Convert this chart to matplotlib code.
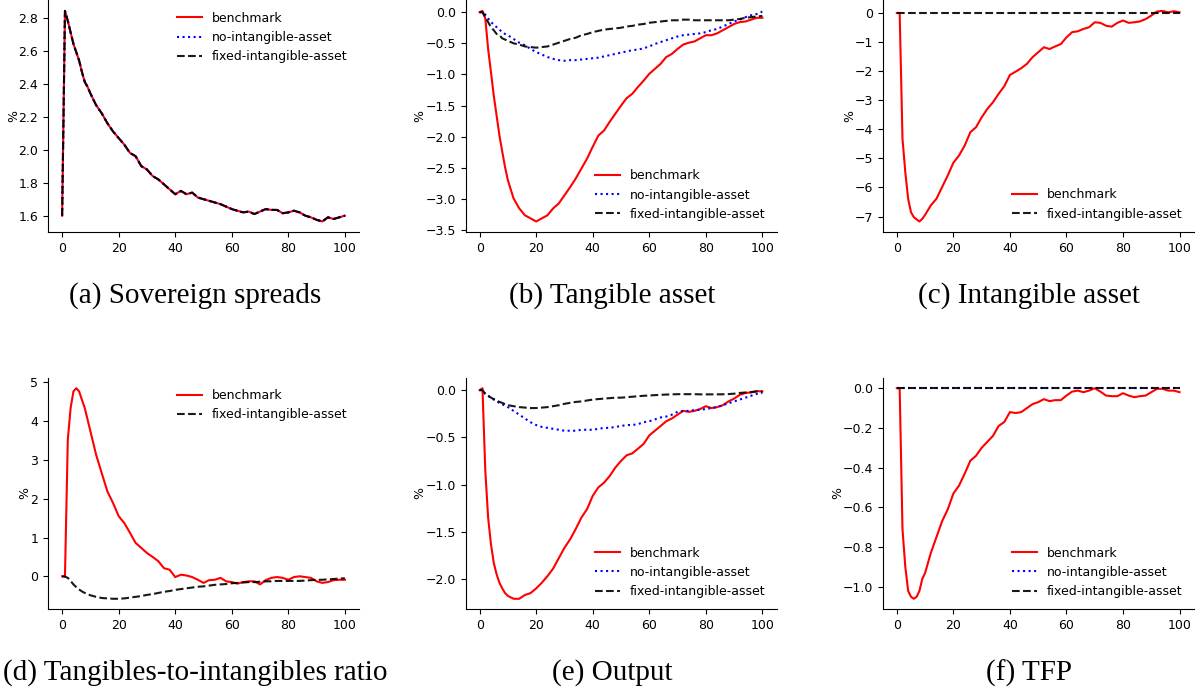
import numpy as np
import matplotlib
matplotlib.use("Agg")
import matplotlib.pyplot as plt

# horizon grid (periods), every period up to 10, then every second period
t = [0, 1, 2, 3, 4, 5, 6, 7, 8, 9, 10] + list(range(12, 101, 2))

# (a) sovereign spreads - all three models coincide
spread = [1.60, 2.84, 2.78, 2.71, 2.64, 2.59, 2.54, 2.47, 2.41, 2.38, 2.34,
          2.27, 2.22, 2.16, 2.11, 2.07, 2.03, 1.98, 1.96, 1.90, 1.88,
          1.84, 1.82, 1.79, 1.76, 1.73, 1.75, 1.73, 1.74, 1.71, 1.70,
          1.69, 1.68, 1.67, 1.655, 1.64, 1.63, 1.62, 1.625, 1.61, 1.625,
          1.64, 1.635, 1.635, 1.615, 1.62, 1.63, 1.62, 1.60, 1.59, 1.575,
          1.565, 1.59, 1.58, 1.59, 1.60]

# (b) tangible asset
tang_bench = [0, 0.02, -0.10, -0.59, -0.96, -1.34, -1.66, -1.98, -2.24, -2.49, -2.70,
              -2.99, -3.15, -3.26, -3.31, -3.36, -3.31, -3.26, -3.15, -3.07, -2.94,
              -2.81, -2.67, -2.51, -2.35, -2.16, -1.98, -1.90, -1.76, -1.63, -1.50,
              -1.38, -1.31, -1.20, -1.10, -0.99, -0.91, -0.83, -0.72, -0.67, -0.59,
              -0.52, -0.49, -0.47, -0.42, -0.37, -0.37, -0.34, -0.29, -0.24, -0.19,
              -0.16, -0.15, -0.12, -0.09, -0.09]
tang_noint = [0, 0, -0.04, -0.10, -0.16, -0.20, -0.24, -0.28, -0.32, -0.35, -0.37,
              -0.43, -0.49, -0.53, -0.59, -0.64, -0.68, -0.72, -0.75, -0.77, -0.78,
              -0.77, -0.77, -0.76, -0.75, -0.74, -0.73, -0.71, -0.69, -0.67, -0.65,
              -0.63, -0.61, -0.60, -0.58, -0.55, -0.51, -0.48, -0.45, -0.42, -0.39,
              -0.37, -0.36, -0.35, -0.34, -0.32, -0.29, -0.27, -0.23, -0.19, -0.15,
              -0.12, -0.08, -0.05, -0.03, 0.01]
tang_fixed = [0, 0, -0.08, -0.16, -0.24, -0.29, -0.35, -0.37, -0.42, -0.44, -0.46,
              -0.50, -0.52, -0.55, -0.56, -0.57, -0.56, -0.55, -0.52, -0.49, -0.46,
              -0.43, -0.41, -0.37, -0.35, -0.32, -0.30, -0.28, -0.27, -0.26, -0.25,
              -0.23, -0.22, -0.20, -0.19, -0.17, -0.16, -0.15, -0.14, -0.13, -0.13,
              -0.12, -0.12, -0.13, -0.13, -0.13, -0.13, -0.13, -0.13, -0.13, -0.12,
              -0.11, -0.09, -0.08, -0.07, -0.06]

# (c) intangible asset
intang_bench = [0, 0, -4.33, -5.48, -6.39, -6.85, -7.02, -7.10, -7.17, -7.08, -6.94,
                -6.62, -6.39, -5.99, -5.59, -5.15, -4.90, -4.56, -4.10, -3.93, -3.59,
                -3.30, -3.07, -2.78, -2.52, -2.13, -2.02, -1.90, -1.75, -1.52, -1.35,
                -1.18, -1.24, -1.15, -1.07, -0.84, -0.66, -0.63, -0.55, -0.49, -0.32,
                -0.34, -0.44, -0.47, -0.34, -0.26, -0.34, -0.32, -0.29, -0.21, -0.09,
                0.05, 0.07, 0.02, 0.06, 0.02]
intang_fixed = [0.0] * len(t)

# (d) tangibles-to-intangibles ratio
ratio_bench = [0, 0, 3.52, 4.34, 4.77, 4.85, 4.77, 4.55, 4.34, 4.04, 3.74,
               3.14, 2.66, 2.19, 1.89, 1.55, 1.37, 1.12, 0.86, 0.73, 0.60,
               0.50, 0.39, 0.21, 0.17, -0.02, 0.04, 0.02, -0.02, -0.09, -0.17,
               -0.10, -0.09, -0.04, -0.13, -0.15, -0.19, -0.15, -0.13, -0.13, -0.21,
               -0.10, -0.04, -0.02, -0.04, -0.09, -0.02, 0.0, -0.02, -0.04, -0.13,
               -0.17, -0.15, -0.10, -0.09, -0.09]
ratio_fixed = [0, -0.01, -0.04, -0.12, -0.21, -0.28, -0.34, -0.39, -0.43, -0.46, -0.49,
               -0.53, -0.56, -0.57, -0.58, -0.58, -0.57, -0.55, -0.53, -0.51, -0.48,
               -0.46, -0.43, -0.40, -0.38, -0.35, -0.33, -0.31, -0.29, -0.27, -0.26,
               -0.24, -0.22, -0.21, -0.20, -0.18, -0.17, -0.16, -0.15, -0.15, -0.14,
               -0.13, -0.13, -0.12, -0.12, -0.12, -0.12, -0.12, -0.11, -0.10, -0.09,
               -0.09, -0.08, -0.07, -0.06, -0.05]

# (e) output
out_bench = [0, 0.02, -0.85, -1.35, -1.63, -1.83, -1.95, -2.04, -2.10, -2.15, -2.18,
             -2.21, -2.21, -2.17, -2.15, -2.10, -2.04, -1.97, -1.89, -1.78, -1.67,
             -1.58, -1.47, -1.35, -1.26, -1.12, -1.03, -0.98, -0.91, -0.82, -0.75,
             -0.69, -0.67, -0.62, -0.57, -0.48, -0.43, -0.38, -0.33, -0.30, -0.26,
             -0.22, -0.23, -0.22, -0.20, -0.17, -0.19, -0.18, -0.16, -0.12, -0.09,
             -0.05, -0.03, -0.025, -0.01, -0.015]
out_noint = [0, 0, -0.04, -0.06, -0.08, -0.10, -0.12, -0.135, -0.15, -0.165, -0.18,
             -0.22, -0.26, -0.30, -0.34, -0.37, -0.39, -0.40, -0.41, -0.42, -0.43,
             -0.43, -0.43, -0.42, -0.42, -0.42, -0.41, -0.40, -0.40, -0.39, -0.38,
             -0.37, -0.37, -0.36, -0.34, -0.33, -0.31, -0.29, -0.28, -0.26, -0.23,
             -0.22, -0.22, -0.21, -0.21, -0.20, -0.19, -0.18, -0.16, -0.14, -0.12,
             -0.10, -0.08, -0.06, -0.04, -0.03]
out_fixed = [0, 0, -0.04, -0.06, -0.08, -0.095, -0.11, -0.125, -0.135, -0.15, -0.16,
             -0.17, -0.18, -0.185, -0.19, -0.19, -0.185, -0.18, -0.17, -0.16, -0.145,
             -0.135, -0.125, -0.12, -0.11, -0.10, -0.095, -0.09, -0.085, -0.08, -0.08,
             -0.075, -0.07, -0.065, -0.06, -0.057, -0.053, -0.05, -0.047, -0.045, -0.043,
             -0.043, -0.043, -0.043, -0.045, -0.045, -0.045, -0.045, -0.044, -0.042, -0.038,
             -0.03, -0.025, -0.02, -0.015, -0.012]

# (f) TFP
tfp_bench = [0, 0, -0.71, -0.90, -1.02, -1.05, -1.06, -1.05, -1.02, -0.96, -0.93,
             -0.83, -0.75, -0.67, -0.61, -0.53, -0.49, -0.43, -0.365, -0.34, -0.30,
             -0.27, -0.24, -0.19, -0.17, -0.12, -0.125, -0.12, -0.10, -0.08, -0.07,
             -0.055, -0.065, -0.06, -0.06, -0.037, -0.017, -0.012, -0.02, -0.012, 0.0,
             -0.017, -0.037, -0.04, -0.04, -0.025, -0.037, -0.045, -0.04, -0.037, -0.02,
             -0.003, -0.003, -0.012, -0.012, -0.02]
tfp_noint = [0.0] * len(t)
tfp_fixed = [0.0] * len(t)

captions = ["(a) Sovereign spreads", "(b) Tangible asset", "(c) Intangible asset",
            "(d) Tangibles-to-intangibles ratio", "(e) Output", "(f) TFP"]

panels = [
    [spread, spread, spread],
    [tang_bench, tang_noint, tang_fixed],
    [intang_bench, None, intang_fixed],
    [ratio_bench, None, ratio_fixed],
    [out_bench, out_noint, out_fixed],
    [tfp_bench, tfp_noint, tfp_fixed],
]
legend_loc = ["upper right", "lower right", "lower right",
              "upper right", "lower right", "lower right"]

W, H = 1198, 689
fig = plt.figure(figsize=(W / 100, H / 100), dpi=100)

lefts = [48, 465.5, 882.7]
tops = [0.4, 377.7]
ax_w, ax_h = 311, 231.6
cap_x = [195, 612, 1029]
cap_y = [296, 673]

for i, (series, loc) in enumerate(zip(panels, legend_loc)):
    r, c = divmod(i, 3)
    ax = fig.add_axes([lefts[c] / W, 1 - (tops[r] + ax_h) / H, ax_w / W, ax_h / H])
    bench, noint, fixed = series
    ax.plot(t, bench, color="red", lw=1.5, label="benchmark")
    if noint is not None:
        ax.plot(t, noint, color="blue", ls=":", lw=1.5, label="no-intangible-asset")
    ax.plot(t, fixed, color="k", ls="--", lw=1.5, label="fixed-intangible-asset", alpha=0.9)
    ax.set_xticks([0, 20, 40, 60, 80, 100])
    ax.set_ylabel("%", fontsize=9, labelpad=-1)
    ax.tick_params(labelsize=9)
    ax.spines["top"].set_visible(False)
    ax.spines["right"].set_visible(False)
    ax.legend(loc=loc, frameon=False, fontsize=9)
    fig.text(cap_x[c] / W, 1 - cap_y[r] / H, captions[i], ha="center", va="center",
             family="Liberation Serif", fontsize=21)

fig.savefig("out.png", dpi=100)
